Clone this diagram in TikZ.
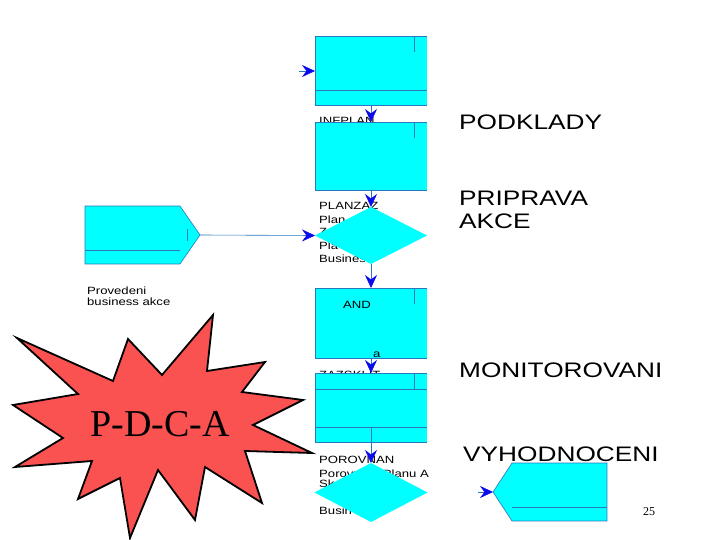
\documentclass[tikz,border=0pt]{standalone}
\usepackage{graphicx}
\usepackage{fontspec}
\setmainfont{Liberation Serif}
\setsansfont{Liberation Sans}
\usepackage{tikz}
\usetikzlibrary{arrows.meta,shapes.geometric,positioning}
\definecolor{boxcyan}{RGB}{0,255,255}
\definecolor{edgeblue}{RGB}{40,120,190}
\definecolor{tipblue}{RGB}{10,10,235}
\definecolor{burstred}{RGB}{250,82,80}
\newcommand{\stretchtxt}[2][1.25]{\scalebox{#1}[1]{#2}}

\begin{document}
\begin{tikzpicture}[x=1pt, y=-1pt,
    block/.style={fill=boxcyan, minimum width=112pt, inner sep=0pt, outer sep=0pt},
    dec/.style={diamond, fill=boxcyan, inner sep=0pt, outer sep=0pt},
    edge/.style={draw=edgeblue, line width=0.6pt},
    arr/.style={edgeblue, line width=0.6pt, -{Stealth[length=13pt, width=12pt, inset=4.5pt, color=tipblue, fill=tipblue]}},
    small/.style={font=\sffamily\fontsize{10.5}{12}\selectfont, inner sep=0pt, anchor=base west},
    title/.style={font=\sffamily\fontsize{21}{23}\selectfont, inner sep=0pt, anchor=base west}
]
\useasboundingbox (0,0) rectangle (720,540);

% process column
\node[block, minimum height=69pt] (plan1) at (371,70.5) {};
\node[small] (infplan) at (319,124.5) {\stretchtxt{INFPLAN}};
\node[block, minimum height=68pt] (plan2) at (371,156) {};
\node[small] (planzaz) at (319,210) {\stretchtxt{PLANZAZ}};
\node[small] (pl1) at (319,223) {\stretchtxt{Plan}};
\node[small] (pl2) at (319,236) {\stretchtxt{Z}};
\node[small] (pl3) at (319,249) {\stretchtxt{Pla}};
\node[small] (pl4) at (319,262) {\stretchtxt{Busines}};
\node[dec, minimum width=112pt, minimum height=57pt] (dplan) at (371,235.5) {};
\node[block, minimum height=70pt] (and) at (371,323) {};
\node[small] (andlbl) at (343,308) {\stretchtxt{AND}};
\node[small] (alabel) at (373,357) {\stretchtxt{a}};
\node[small] (zazsklit) at (319,378) {\stretchtxt{ZAZSKLIT}};
\node[block, minimum height=69pt] (zazsk) at (371,407.5) {};
\node[small] (porovnan) at (319,463) {\stretchtxt{POROVNAN}};
\node[small] (po1) at (319,477) {\stretchtxt{Porovn}};
\node[small, anchor=base east] (po2) at (429,477) {\stretchtxt{Planu A}};
\node[small] (po3) at (319,487) {\stretchtxt{Sk}};
\node[small] (po4) at (319,514) {\stretchtxt{Busin}};
\node[dec, minimum width=113pt, minimum height=59pt] (dporov) at (371,492.5) {};

\foreach \b in {plan1,plan2,and,zazsk} {
  \draw[edge] (\b.north east) -- (\b.north west) -- (\b.south west) -- (\b.south east);
  \draw[edge] ([xshift=-13pt]\b.north east) -- ++(0,16);
}
\draw[edge] (plan1.west |- 0,90) -- (plan1.east |- 0,90);
\draw[edge] (zazsk.west |- 0,389) -- (zazsk.east |- 0,389);
\draw[edge] (zazsk.west |- 0,427) -- (zazsk.east |- 0,427);
\draw[edge] (zazsk.center |- 0,427) -- (zazsk.south);

% left event
\node[block, minimum width=95pt, minimum height=58pt] (prov) at (132.5,235) {};
\coordinate (provtip) at (200,235);
\fill[boxcyan] (prov.north east) -- (provtip) -- (prov.south east) -- cycle;
\draw[edge] (prov.north west) -- (prov.north east) -- (provtip) -- (prov.south east) -- (prov.south west) -- cycle;
\draw[edge] (prov.west |- 0,250) -- (prov.east |- 0,250);
\draw[edge] (187,229) -- (187,241);
\node[small] (provlbl) at (87,294) {\stretchtxt{Provedeni}};
\node[small] (provlbl2) at (87,305) {\stretchtxt{business akce}};

% right event
\node[block, minimum width=95pt, minimum height=58pt] (vyhod) at (559.5,492) {};
\coordinate (vyhodtip) at (493,492);
\fill[boxcyan] (vyhod.north west) -- (vyhodtip) -- (vyhod.south west) -- cycle;
\draw[edge] (vyhod.north west) -- (vyhod.north east) -- (vyhod.south east) -- (vyhod.south west) -- (vyhodtip) -- cycle;
\draw[edge] (vyhod.west |- 0,507) -- (vyhod.east |- 0,507);

% connectors
\coordinate (in1) at (299,71);
\coordinate (in2) at (478,492);
\draw[arr] (in1) -- (plan1.west |- in1);
\draw[arr] (plan1.south) -- (plan2.north);
\draw[arr] (plan2.south) -- (dplan.north);
\draw[arr] (provtip) -- (dplan.west);
\draw[arr] (dplan.south) -- (and.north);
\draw[arr] (and.south) -- (zazsk.north);
\draw[arr] (zazsk.south) -- (dporov.north);
\draw[arr] (in2) -- (vyhodtip);

% phase titles
\node[title] (podklady) at (459,130) {\stretchtxt[1.25]{PODKLADY}};
\node[title] (priprava) at (459,206) {\stretchtxt[1.25]{PRIPRAVA}};
\node[title] (akce) at (459,229) {\stretchtxt[1.25]{AKCE}};
\node[title] (monit) at (459,377) {\stretchtxt[1.25]{MONITOROVANI}};
\node[title] (vyhodn) at (463,461) {\stretchtxt[1.25]{VYHODNOCENI}};
\node[font=\fontsize{12}{14}\selectfont, anchor=base west, inner sep=0pt] (pagenum) at (643,515) {25};

% starburst
\draw[fill=burstred, line width=1.8pt, line join=miter]
  (17,338) -- (113,381) -- (128,339) -- (162,375) -- (213,315) -- (207,371)
  -- (265,362) -- (242,392) -- (303,400) -- (253,425) -- (312,453) -- (245,451)
  -- (262,503) -- (205,467) -- (195,520) -- (158,470) -- (130,538) -- (120,478)
  -- (78,499) -- (92,461) -- (15,467) -- (63,438) -- (13,405) -- (78,394) -- cycle;
\node[font=\fontsize{38}{40}\selectfont, anchor=base, inner sep=0pt] (pdca) at (160,436) {P-D-C-A};
\end{tikzpicture}
\end{document}
